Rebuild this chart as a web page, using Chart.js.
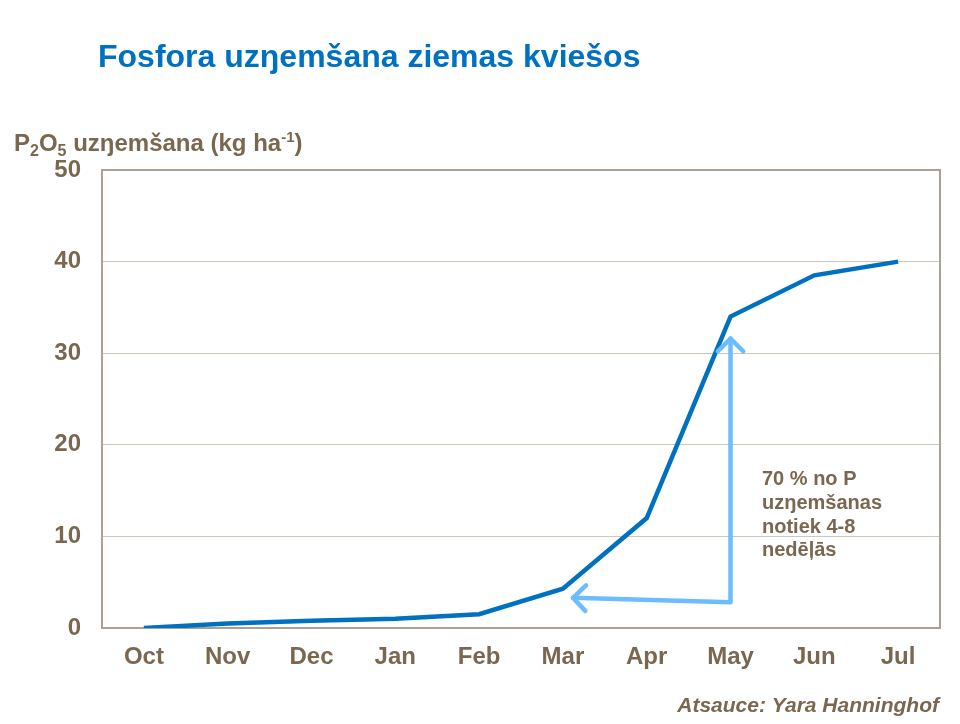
<!DOCTYPE html>
<html>
<head>
<meta charset="utf-8">
<script src="https://cdn.jsdelivr.net/npm/chart.js@4"></script>
<style>
  html, body { margin: 0; padding: 0; background: #fff; }
  #wrap { width: 960px; height: 724px; position: relative; }
</style>
</head>
<body>
<div id="wrap"><canvas id="chart"></canvas></div>
<script>
// --- Dati ---
const months = ['Oct', 'Nov', 'Dec', 'Jan', 'Feb', 'Mar', 'Apr', 'May', 'Jun', 'Jul'];
const uptake = [0, 0.5, 0.8, 1.0, 1.5, 4.3, 12, 34, 38.5, 40];
const yTicks = [0, 10, 20, 30, 40, 50];

// bultas (kategorijas indekss, vērtība)
const arrowStart = [7, 2.8];
const arrowUpEnd = [7, 31.6];
const arrowLeftEnd = [5.12, 3.3];

const noteLines = ['70 % no P', 'uzŋemšanas', 'notiek 4-8', 'nedēļās'];
const titleText = 'Fosfora uzŋemšana ziemas kviešos';
const sourceText = 'Atsauce: Yara Hanninghof';

const brown = '#7a6750';
const FONT = '"Liberation Sans", Arial, sans-serif';

// --- Virsraksti, bultas, rāmis ---
const decorPlugin = {
    id: 'decor',
    beforeDatasetsDraw(chart) {
        const ctx = chart.ctx;
        const a = chart.chartArea;
        ctx.save();
        ctx.strokeStyle = '#aca094';
        ctx.lineWidth = 2;
        ctx.strokeRect(a.left, a.top, a.right - a.left, a.bottom - a.top);
        ctx.restore();
    },
    afterDatasetsDraw(chart) {
        const ctx = chart.ctx;
        const xs = chart.scales.x;
        const ys = chart.scales.y;
        const px = p => [xs.getPixelForValue(p[0]), ys.getPixelForValue(p[1])];

        // bultas
        const s = px(arrowStart), up = px(arrowUpEnd), lf = px(arrowLeftEnd);
        ctx.save();
        ctx.strokeStyle = '#6cbcff';
        ctx.lineWidth = 4.5;
        ctx.lineCap = 'round';
        ctx.lineJoin = 'round';
        ctx.beginPath();
        ctx.moveTo(up[0], up[1]);
        ctx.lineTo(s[0], s[1]);
        ctx.lineTo(lf[0], lf[1]);
        ctx.stroke();
        const head = (tip, from) => {
            const ang = Math.atan2(tip[1] - from[1], tip[0] - from[0]);
            const L = 18;
            ctx.beginPath();
            ctx.moveTo(tip[0] - L * Math.cos(ang - Math.PI / 4), tip[1] - L * Math.sin(ang - Math.PI / 4));
            ctx.lineTo(tip[0], tip[1]);
            ctx.lineTo(tip[0] - L * Math.cos(ang + Math.PI / 4), tip[1] - L * Math.sin(ang + Math.PI / 4));
            ctx.stroke();
        };
        head(up, s);
        head(lf, s);
        ctx.restore();

        // piezīme
        ctx.save();
        ctx.fillStyle = brown;
        ctx.font = 'bold 20px ' + FONT;
        ctx.textBaseline = 'alphabetic';
        noteLines.forEach((t, i) => ctx.fillText(t, 762, 485 + i * 23.8));
        ctx.restore();
    },
    afterDraw(chart) {
        const ctx = chart.ctx;
        ctx.save();
        // virsraksts
        ctx.fillStyle = '#0070c0';
        ctx.font = 'bold 32px ' + FONT;
        ctx.textBaseline = 'alphabetic';
        ctx.fillText(titleText, 98, 67);

        // ass nosaukums ar indeksiem
        ctx.fillStyle = brown;
        let x = 14;
        const base = 151;
        const part = (t, size, dy) => {
            ctx.font = 'bold ' + size + 'px ' + FONT;
            ctx.fillText(t, x, base + dy);
            x += ctx.measureText(t).width;
        };
        part('P', 24, 0);
        part('2', 16, 5);
        part('O', 24, 0);
        part('5', 16, 5);
        part(' uzŋemšana (kg ha', 24, 0);
        part('-1', 15, -9);
        part(')', 24, 0);

        // avots
        ctx.font = 'italic bold 21px ' + FONT;
        ctx.textAlign = 'right';
        ctx.fillText(sourceText, 939, 712);
        ctx.restore();
    }
};

const ctx = document.getElementById('chart').getContext('2d');
new Chart(ctx, {
    type: 'line',
    data: {
        labels: months,
        datasets: [{
            data: uptake,
            borderColor: '#0070c0',
            borderWidth: 4.5,
            pointRadius: 0,
            tension: 0,
            fill: false
        }]
    },
    options: {
        responsive: true,
        maintainAspectRatio: false,
        animation: false,
        layout: { padding: { top: 170, right: 20, left: 0, bottom: 0 } },
        plugins: {
            legend: { display: false },
            tooltip: { enabled: false }
        },
        scales: {
            x: {
                offset: true,
                grid: { display: false, drawTicks: false },
                border: { display: false },
                ticks: {
                    color: brown,
                    font: { family: FONT, size: 24, weight: 'bold' },
                    padding: 15,
                    maxRotation: 0
                },
                afterFit: scale => { scale.height = 96; }
            },
            y: {
                min: 0,
                max: 50,
                afterBuildTicks: scale => { scale.ticks = yTicks.map(v => ({ value: v })); },
                grid: {
                    drawTicks: false,
                    color: c => (c.tick.value === 0 || c.tick.value === 50) ? 'rgba(0,0,0,0)' : '#cfc5bb',
                    lineWidth: 1
                },
                border: { display: false },
                ticks: {
                    color: brown,
                    font: { family: FONT, size: 24, weight: 'bold' },
                    padding: 21
                },
                afterFit: scale => { scale.width = 102; }
            }
        }
    },
    plugins: [decorPlugin]
});
</script>
</body>
</html>
